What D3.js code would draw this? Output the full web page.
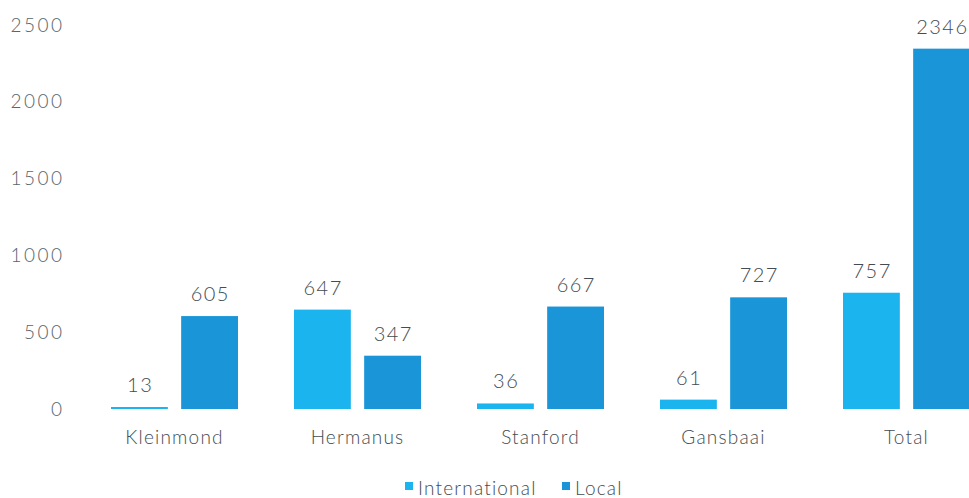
<!DOCTYPE html>
<html>
<head>
<meta charset="utf-8">
<script src="https://cdn.jsdelivr.net/npm/d3@7"></script>
<style>
  body { margin: 0; background: #fff; }
  svg { display: block; }
</style>
</head>
<body>
<div id="chart"></div>
<script>
// Data
const towns = ["Kleinmond", "Hermanus", "Stanford", "Gansbaai", "Total"];
const series = ["International", "Local"];
const international = [13, 647, 36, 61, 757];
const local = [605, 347, 667, 727, 2346];
const yTicks = [0, 500, 1000, 1500, 2000, 2500];

const width = 969;
const height = 498;

const colour = d3.scaleOrdinal()
  .domain(series)
  .range(["#1cb4ee", "#1a95d8"]);

const svg = d3.select('#chart')
  .append("svg")
  .attr("width", width)
  .attr("height", height)
  .attr("font-family", "Lato, sans-serif")
  .attr("font-weight", 300);

// Scales
const x0 = d3.scaleBand()
  .domain(towns)
  .range([83, 998]);

const x1 = d3.scaleBand()
  .domain(series)
  .range([28, 155])
  .paddingInner(0.19);

const y = d3.scaleLinear()
  .domain([0, 2500])
  .range([409, 25]);

// Y axis (labels only)
const yAxis = svg.append('g')
  .attr("transform", "translate(64.5,0)")
  .call(d3.axisLeft(y).tickValues(yTicks).tickSize(0).tickPadding(0).tickFormat(d3.format("d")));

yAxis.select(".domain").remove();
yAxis.selectAll("text")
  .attr("font-family", "Lato, sans-serif")
  .attr("font-size", 19)
  .attr("letter-spacing", 2.5)
  .attr("fill", "#56666e");

// Build table
const rows = towns.map((t, i) => ({
  town: t,
  values: [
    { key: "International", value: international[i] },
    { key: "Local", value: local[i] }
  ]
}));

// Bars
const groups = svg.append('g')
  .selectAll('g')
  .data(rows)
  .join('g')
  .attr("transform", d => `translate(${x0(d.town)},0)`);

groups.selectAll('rect')
  .data(d => d.values)
  .join('rect')
  .attr("x", d => x1(d.key))
  .attr("y", d => y(d.value))
  .attr("width", x1.bandwidth())
  .attr("height", d => y(0) - y(d.value))
  .attr("fill", d => colour(d.key));

// Value labels
groups.selectAll('text')
  .data(d => d.values)
  .join('text')
  .attr("x", d => x1(d.key) + x1.bandwidth() / 2 + 0.75)
  .attr("y", d => y(d.value) - 15)
  .attr("text-anchor", "middle")
  .attr("font-size", 20)
  .attr("letter-spacing", 1.5)
  .attr("fill", "#434c52")
  .text(d => d.value);

// Category labels
svg.append('g')
  .selectAll('text')
  .data(towns)
  .join('text')
  .attr("x", d => x0(d) + x0.bandwidth() / 2)
  .attr("y", 444)
  .attr("text-anchor", "middle")
  .attr("font-size", 19)
  .attr("letter-spacing", 1.2)
  .attr("fill", "#434c52")
  .text(d => d);

// Legend
const legend = svg.append('g')
  .attr("transform", "translate(405,495)");

const legendItems = legend.selectAll('g')
  .data(series)
  .join('g')
  .attr("transform", (d, i) => `translate(${i * 157},0)`);

legendItems.append('rect')
  .attr("x", 0)
  .attr("y", -13)
  .attr("width", 8)
  .attr("height", 8)
  .attr("fill", d => colour(d));

legendItems.append('text')
  .attr("x", 13)
  .attr("y", 0)
  .attr("font-size", 19)
  .attr("letter-spacing", 1.2)
  .attr("fill", "#434c52")
  .text(d => d);
</script>
</body>
</html>
